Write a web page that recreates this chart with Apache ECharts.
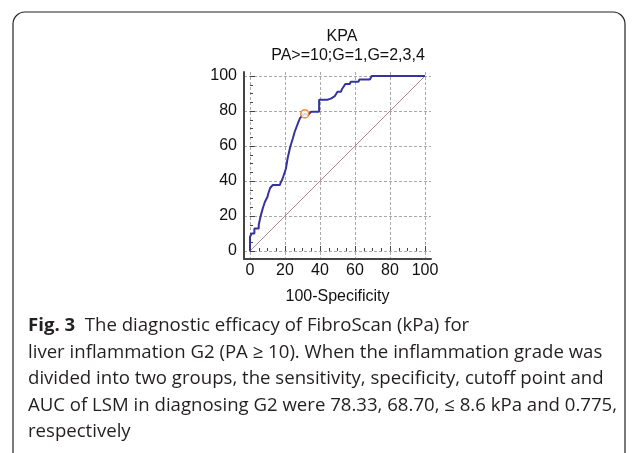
<!DOCTYPE html>
<html>
<head>
<meta charset="utf-8">
<script src="https://cdn.jsdelivr.net/npm/echarts@6/dist/echarts.min.js"></script>
<style>
  html, body { margin: 0; padding: 0; background: #fff; }
  #chart { width: 638px; height: 453px; }
</style>
</head>
<body>
<div id="chart"></div>
<script>
// ROC staircase (100-Specificity, Sensitivity)
const rocX = [0, 0, 1, 1, 2.5, 2.5, 5, 5, 6, 6, 6.5, 7.5, 8.5, 9.5, 10, 10.5, 11.5, 13, 17, 17.5, 18.5, 19.5,
  20.5, 21.5, 23, 24.5, 25.5, 27, 28.5, 30, 31.3, 33, 34, 35, 39.5, 39.5, 44.5, 45, 46.5, 47, 48.5,
  50, 52, 52.5, 53.5, 54.5, 57, 57.5, 62, 62.5, 68.5, 69.5, 100];
const rocY = [0, 8.2, 8.2, 10, 10, 12.8, 12.8, 15, 15, 19.6, 21.5, 25, 28, 28, 31, 33, 36, 37.7, 37.7, 39, 41, 44,
  47, 53, 59.6, 64.4, 68, 72, 75.8, 77.7, 78.33, 77.7, 77.7, 79.6, 79.6, 86.5, 86.5, 87.2, 87.2, 88.3, 88.6,
  91, 91, 92.4, 92.4, 95.4, 95.4, 96.7, 96.7, 98, 98, 100, 100];
const diagX = [0, 100];
const diagY = [0, 100];
const cutoffPoint = [31.3, 78.33];

const titleText = 'KPA';
const subtitleText = 'PA>=10;G=1,G=2,3,4';
const xAxisName = '100-Specificity';
const captionLines = [
  '{b|Fig. 3}  The diagnostic efficacy of FibroScan (kPa) for',
  'liver inflammation G2 (PA \u2265 10). When the inflammation grade was',
  'divided into two groups, the sensitivity, specificity, cutoff point and',
  'AUC of LSM in diagnosing G2 were 78.33, 68.70, \u2264 8.6 kPa and 0.775,',
  'respectively'
];

const chart = echarts.init(document.getElementById('chart'), null, { renderer: 'canvas' });

const FONT = '"Liberation Sans", Arial, sans-serif';
const CAP_FONT = '"Open Sans", "Noto Sans", sans-serif';
const axisColor = '#444';
const gridLine = { show: true, lineStyle: { color: '#aaa', type: [3, 2], width: 1 } };

// inner grid = data area, outer grid = frame with axis lines & gridlines
const inner = { left: 250, top: 76, width: 175, height: 175 };
const outer = { left: 244, top: 72, width: 187, height: 187 };
const pxPerUnit = inner.width / 100;

chart.setOption({
  backgroundColor: '#fff',
  animation: false,
  title: [
    { text: titleText, left: 337, top: 24, textAlign: 'center',
      textStyle: { fontFamily: FONT, fontSize: 16, fontWeight: 'normal', color: '#111' } },
    { text: subtitleText, left: 343, top: 43, textAlign: 'center',
      textStyle: { fontFamily: FONT, fontSize: 16, fontWeight: 'normal', color: '#111' } }
  ],
  grid: [
    { ...inner, containLabel: false },
    { ...outer, containLabel: false }
  ],
  xAxis: [
    {
      gridIndex: 0, type: 'value', min: 0, max: 100, interval: 20, offset: 8,
      name: xAxisName, nameLocation: 'middle', nameGap: 30,
      nameTextStyle: { fontFamily: FONT, fontSize: 16, color: '#111' },
      axisLine: { show: false },
      axisTick: { show: true, inside: true, length: 5, lineStyle: { color: axisColor, width: 1 } },
      minorTick: { show: true, splitNumber: 4, length: 3, lineStyle: { color: axisColor, width: 1 } },
      axisLabel: { fontFamily: FONT, fontSize: 16, color: '#111', margin: 4 },
      splitLine: { show: false }
    },
    {
      gridIndex: 1, type: 'value',
      min: -(inner.left - outer.left) / pxPerUnit,
      max: 100 + (outer.left + outer.width - inner.left - inner.width) / pxPerUnit,
      axisLine: { show: true, onZero: false, lineStyle: { color: axisColor, width: 2 } },
      axisTick: { show: false },
      axisLabel: { show: false },
      splitLine: { ...gridLine, showMinLine: false, showMaxLine: false }
    }
  ],
  yAxis: [
    {
      gridIndex: 0, type: 'value', min: 0, max: 100, interval: 20, offset: 6,
      axisLine: { show: false },
      axisTick: { show: true, inside: true, length: 5, lineStyle: { color: axisColor, width: 1 } },
      minorTick: { show: true, splitNumber: 4, length: 3, lineStyle: { color: axisColor, width: 1 } },
      axisLabel: { fontFamily: FONT, fontSize: 16, color: '#111', margin: 7 },
      splitLine: { show: false }
    },
    {
      gridIndex: 1, type: 'value',
      min: -(outer.top + outer.height - inner.top - inner.height) / pxPerUnit,
      max: 100 + (inner.top - outer.top) / pxPerUnit,
      axisLine: { show: true, onZero: false, lineStyle: { color: axisColor, width: 2 } },
      axisTick: { show: false },
      axisLabel: { show: false },
      splitLine: { ...gridLine, showMinLine: false, showMaxLine: false }
    }
  ],
  series: [
    {
      name: 'reference', type: 'line', xAxisIndex: 0, yAxisIndex: 0,
      data: diagX.map((x, i) => [x, diagY[i]]),
      showSymbol: false, silent: true,
      lineStyle: { color: '#c0837e', width: 1 }
    },
    {
      name: 'ROC', type: 'line', xAxisIndex: 0, yAxisIndex: 0,
      data: rocX.map((x, i) => [x, rocY[i]]),
      showSymbol: false,
      lineStyle: { color: '#34349c', width: 2 }
    },
    {
      name: 'cutoff', type: 'scatter', xAxisIndex: 0, yAxisIndex: 0, z: 5,
      data: [cutoffPoint],
      symbol: 'circle', symbolSize: 8,
      itemStyle: { color: '#fff', borderColor: '#f07a1a', borderWidth: 1.6 }
    }
  ],
  graphic: [
    {
      type: 'rect', z: -1, silent: true,
      shape: { x: 13, y: 12, width: 612, height: 470, r: 12 },
      style: { fill: 'none', stroke: '#222', lineWidth: 1.2 }
    },
    ...captionLines.map((line, i) => ({
      type: 'text', x: 28, y: 326 + i * 26.5, silent: true,
      style: {
        text: line,
        fontFamily: CAP_FONT,
        fontSize: 18.6,
        fill: '#231f20',
        verticalAlign: 'middle',
        rich: { b: { fontFamily: CAP_FONT, fontSize: 18.6, fontWeight: 'bold', fill: '#231f20' } }
      }
    }))
  ]
});
</script>
</body>
</html>
